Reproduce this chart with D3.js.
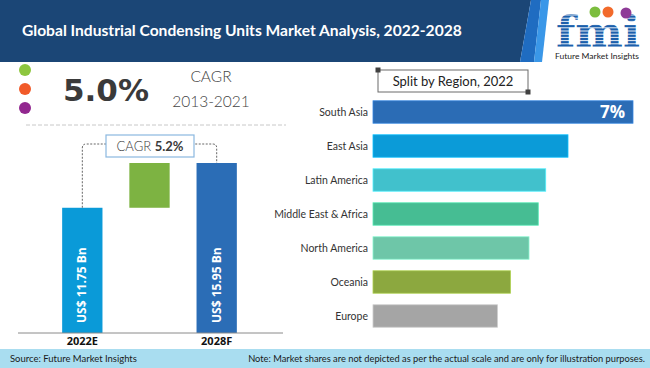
<!DOCTYPE html>
<html>
<head>
<meta charset="utf-8">
<script src="https://cdn.jsdelivr.net/npm/d3@7"></script>
<style>
  html, body { margin: 0; padding: 0; background: #fff; }
  svg { display: block; }
</style>
</head>
<body>
<svg id="chart" width="650" height="368"></svg>
<script>
// ---------- DATA ----------
const title = "Global Industrial Condensing Units Market Analysis, 2022-2028";
const years = ["2022E", "2028F"];
const marketValues = [11.75, 15.95];
const valueLabels = ["US$ 11.75 Bn", "US$ 15.95 Bn"];
const historicCagr = "5.0%";
const historicPeriod = "2013-2021";
const forecastCagr = "5.2%";
const regions = ["South Asia", "East Asia", "Latin America", "Middle East & Africa", "North America", "Oceania", "Europe"];
const regionValues = [7, 5.25, 4.65, 4.45, 4.2, 3.7, 3.35];
const regionColors = ["#2b6cb5", "#0b9bd8", "#41c1cc", "#46bd93", "#6ec6a8", "#8ca83f", "#a5a5a5"];
const regionTopLabel = "7%";
const sourceText = "Source: Future Market Insights";
const noteText = "Note: Market shares are not depicted as per the actual scale and are only for illustration purposes.";

const svg = d3.select("#chart");

// fit a text element's font size so its natural width equals target
function fitWidth(sel, target, start) {
  let fs = start;
  sel.attr("font-size", fs);
  const w = sel.node().getComputedTextLength();
  if (w > 0) { fs = fs * target / w; sel.attr("font-size", fs.toFixed(2)); }
  return sel;
}

// ---------- HEADER ----------
svg.append("path").attr("d", "M0,0 L531,0 L520,62 L0,62 Z").attr("fill", "#1b4676");
svg.append("path").attr("d", "M531,0 L541,0 L534,62 L520,62 Z").attr("fill", "#1f6cc1");
svg.append("path").attr("d", "M541,0 L549,0 L542,62 L534,62 Z").attr("fill", "#3a97e8");
fitWidth(svg.append("text").attr("x", 22).attr("y", 36)
  .attr("fill", "#fff").attr("font-family", "Lato, 'Open Sans', sans-serif")
  .attr("font-weight", 700)
  .text(title), 440, 17.5);

// Logo
const logo = svg.append("g");
logo.append("text").attr("x", 556).attr("y", 47)
  .attr("fill", "#1c5fab").attr("font-family", "'DejaVu Serif', serif")
  .attr("font-weight", 700).attr("font-size", 42)
  .attr("textLength", 84).attr("lengthAdjust", "spacingAndGlyphs")
  .text("fmi");
for (let yy = 15; yy < 48; yy += 3.2) {
  logo.append("line").attr("x1", 552).attr("x2", 644).attr("y1", yy).attr("y2", yy)
    .attr("stroke", "#fff").attr("stroke-width", 0.9);
}
[["#7cbd3e", 595, 12], ["#f26a2b", 608, 12], ["#8e3b97", 626, 13]].forEach(c => {
  logo.append("circle").attr("cx", c[1]).attr("cy", c[2]).attr("r", 5.5).attr("fill", c[0]);
});
fitWidth(logo.append("text").attr("x", 597).attr("y", 59).attr("text-anchor", "middle")
  .attr("fill", "#222").attr("font-family", "Lato, sans-serif")
  .text("Future Market Insights"), 84, 9);

// ---------- LEFT PANEL ----------
[["#8dc63f", 70], ["#f15a29", 89], ["#92278f", 108]].forEach(d => {
  svg.append("circle").attr("cx", 25).attr("cy", d[1]).attr("r", 6).attr("fill", d[0]);
});
svg.append("text").attr("x", 106).attr("y", 101).attr("text-anchor", "middle")
  .attr("fill", "#3a3a3a").attr("font-family", "'DejaVu Sans', sans-serif")
  .attr("font-weight", 700).attr("font-size", 30)
  .attr("textLength", 86).attr("lengthAdjust", "spacingAndGlyphs")
  .text(historicCagr);
svg.append("text").attr("x", 211).attr("y", 82).attr("text-anchor", "middle")
  .attr("fill", "#444").attr("font-family", "Lato, sans-serif").attr("font-weight", 300)
  .attr("font-size", 15.5).text("CAGR");
svg.append("text").attr("x", 211).attr("y", 107).attr("text-anchor", "middle")
  .attr("fill", "#444").attr("font-family", "Lato, sans-serif").attr("font-weight", 300)
  .attr("font-size", 15.5).text(historicPeriod);
svg.append("line").attr("x1", 26).attr("x2", 286).attr("y1", 125).attr("y2", 125)
  .attr("stroke", "#c8c8c8").attr("stroke-width", 1).attr("stroke-dasharray", "4,2");

// waterfall bars
const xBand = d3.scaleBand().domain([years[0], "growth", years[1]])
  .range([42, 257]).paddingInner(0.4).paddingOuter(0.3);
const yVal = d3.scaleLinear().domain([0, marketValues[1]]).range([333, 163]);

const barData = [
  { key: years[0], y0: 0, y1: marketValues[0], color: "#0a9ad8" },
  { key: "growth", y0: marketValues[0], y1: marketValues[1], color: "#7db342" },
  { key: years[1], y0: 0, y1: marketValues[1], color: "#2b6db6" }
];
svg.append("g").selectAll("rect").data(barData).join("rect")
  .attr("x", d => xBand(d.key)).attr("width", xBand.bandwidth())
  .attr("y", d => yVal(d.y1)).attr("height", d => yVal(d.y0) - yVal(d.y1))
  .attr("fill", d => d.color);

// value labels inside bars (rotated)
years.forEach((yr, i) => {
  const cx = xBand(yr) + xBand.bandwidth() / 2 + 4;
  svg.append("text")
    .attr("transform", `translate(${cx},${yVal(0) - 10}) rotate(-90)`)
    .attr("fill", "#fff").attr("font-family", "'Open Sans', sans-serif")
    .attr("font-weight", 700).attr("font-size", 12)
    .text(valueLabels[i]);
});

// baseline
svg.append("line").attr("x1", 18).attr("x2", 283).attr("y1", yVal(0)).attr("y2", yVal(0))
  .attr("stroke", "#8a8a8a").attr("stroke-width", 1);
// x axis labels
svg.append("g").selectAll("text").data(years).join("text")
  .attr("x", d => xBand(d) + xBand.bandwidth() / 2).attr("y", 345)
  .attr("text-anchor", "middle").attr("fill", "#111")
  .attr("font-family", "'Open Sans', sans-serif").attr("font-weight", 700).attr("font-size", 11)
  .text(d => d);

// CAGR connector
const lx = xBand(years[0]) + xBand.bandwidth() / 2;
const rx = xBand(years[1]) + xBand.bandwidth() / 2;
const cy = 144;
svg.append("path")
  .attr("d", `M${lx},${yVal(marketValues[0])} L${lx},${cy + 4} Q${lx},${cy} ${lx + 4},${cy} L${rx - 4},${cy} Q${rx},${cy} ${rx},${cy + 4} L${rx},${yVal(marketValues[1])}`)
  .attr("fill", "none").attr("stroke", "#666").attr("stroke-width", 1).attr("stroke-dasharray", "2,1.5");
svg.append("rect").attr("x", 106).attr("y", 135).attr("width", 88).attr("height", 22)
  .attr("fill", "#fff").attr("stroke", "#8bb8df").attr("stroke-width", 1.2);
const cagrText = svg.append("text").attr("x", 150).attr("y", 151).attr("text-anchor", "middle")
  .attr("font-family", "Lato, sans-serif").attr("font-size", 13).attr("fill", "#3a3a3a");
cagrText.append("tspan").attr("font-weight", 300).text("CAGR ");
cagrText.append("tspan").attr("font-weight", 700).text(forecastCagr);

// ---------- RIGHT PANEL ----------
svg.append("rect").attr("x", 378).attr("y", 70).attr("width", 150).attr("height", 22)
  .attr("fill", "#fff").attr("stroke", "#6a6a6a").attr("stroke-width", 1);
svg.append("rect").attr("x", 375.5).attr("y", 67.5).attr("width", 5).attr("height", 5).attr("fill", "#404040");
svg.append("rect").attr("x", 525.5).attr("y", 89.5).attr("width", 5).attr("height", 5).attr("fill", "#404040");
svg.append("text").attr("x", 453).attr("y", 86).attr("text-anchor", "middle")
  .attr("fill", "#222").attr("font-family", "Lato, sans-serif").attr("font-size", 13)
  .text("Split by Region, 2022");

const yReg = d3.scaleBand().domain(regions).range([95, 333]).paddingInner(0.34).paddingOuter(0.17);
const xReg = d3.scaleLinear().domain([0, regionValues[0]]).range([373, 633]);

svg.append("g").selectAll("rect").data(regions).join("rect")
  .attr("x", xReg(0)).attr("y", d => yReg(d))
  .attr("width", (d, i) => xReg(regionValues[i]) - xReg(0))
  .attr("height", yReg.bandwidth())
  .attr("fill", (d, i) => regionColors[i])
  .attr("stroke", (d, i) => d3.color(regionColors[i]).brighter(0.6))
  .attr("stroke-width", 0.8);

svg.append("g").selectAll("text").data(regions).join("text")
  .attr("x", 368).attr("y", d => yReg(d) + yReg.bandwidth() / 2 + 4)
  .attr("text-anchor", "end").attr("fill", "#333")
  .attr("font-family", "Lato, sans-serif").attr("font-size", 10.5)
  .text(d => d);

svg.append("text").attr("x", 625).attr("y", yReg(regions[0]) + yReg.bandwidth() / 2 + 6)
  .attr("text-anchor", "end").attr("fill", "#fff")
  .attr("font-family", "'Open Sans', sans-serif").attr("font-weight", 700).attr("font-size", 17)
  .text(regionTopLabel);

// ---------- FOOTER ----------
svg.append("rect").attr("x", 0).attr("y", 349).attr("width", 650).attr("height", 19).attr("fill", "#a9ddf0");
fitWidth(svg.append("text").attr("x", 10).attr("y", 362).attr("fill", "#1a1a1a")
  .attr("font-family", "Lato, sans-serif")
  .text(sourceText), 127, 9.5);
fitWidth(svg.append("text").attr("x", 645).attr("y", 362).attr("text-anchor", "end").attr("fill", "#1a1a1a")
  .attr("font-family", "Lato, sans-serif")
  .text(noteText), 397, 9.5);
</script>
</body>
</html>
